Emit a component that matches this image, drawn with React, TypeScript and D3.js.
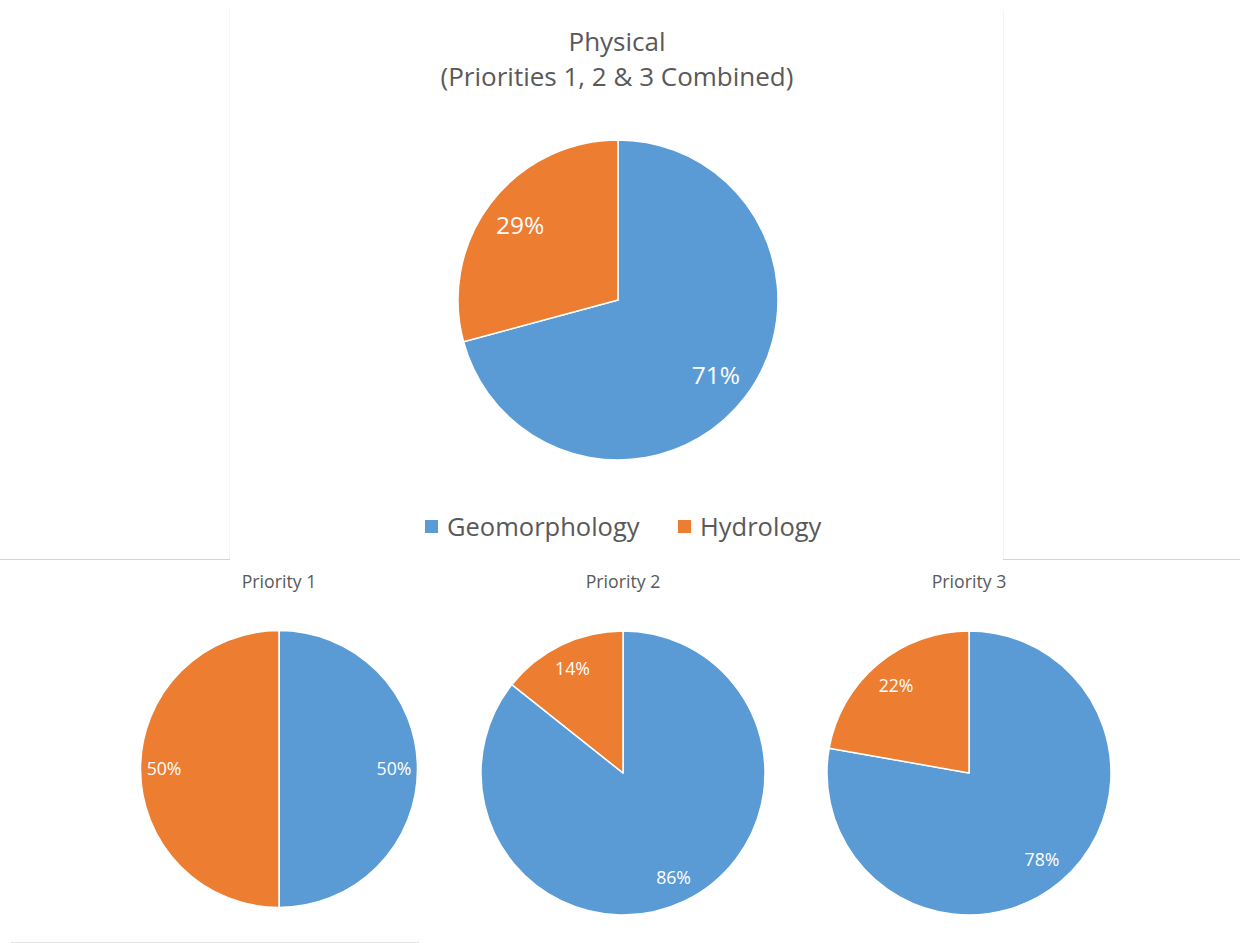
import React from "react";
import * as d3 from "d3";

const categories = ["Geomorphology", "Hydrology"];
const colors = ["#5B9BD5", "#ED7D31"];

const combinedValues = [70.8, 29.2];
const priority1Values = [50, 50];
const priority2Values = [85.7, 14.3];
const priority3Values = [77.8, 22.2];

const titleLines = ["Physical", "(Priorities 1, 2 & 3 Combined)"];
const panelTitles = ["Priority 1", "Priority 2", "Priority 3"];

const FONT = "'Open Sans', 'Noto Sans', sans-serif";
const TEXT = "#595959";

type PieProps = {
  values: number[];
  cx: number;
  cy: number;
  r: number;
  labelK: number;
  fontSize: number;
};

function Pie({ values, cx, cy, r, labelK, fontSize }: PieProps) {
  const pie = d3
    .pie<number>()
    .sort(null)
    .value((d) => d)
    .startAngle(0)
    .endAngle(2 * Math.PI);
  const arcs = pie(values);
  const arc = d3.arc<d3.PieArcDatum<number>>().innerRadius(0).outerRadius(r);
  const total = d3.sum(values);
  return (
    <g transform={`translate(${cx},${cy})`}>
      {arcs.map((a, i) => (
        <path
          key={i}
          d={arc(a) || ""}
          fill={colors[i]}
          stroke="#ffffff"
          strokeWidth={1.5}
          strokeLinejoin="round"
        />
      ))}
      {arcs.map((a, i) => {
        const mid = (a.startAngle + a.endAngle) / 2;
        const x = Math.sin(mid) * r * labelK;
        const y = -Math.cos(mid) * r * labelK;
        return (
          <text
            key={"l" + i}
            x={x}
            y={y}
            dy="0.36em"
            textAnchor="middle"
            fill="#ffffff"
            fontSize={fontSize}
            fontFamily={FONT}
          >
            {d3.format(".0%")(a.data / total)}
          </text>
        );
      })}
    </g>
  );
}

export default function App() {
  const W = 1240;
  const H = 943;
  const legendX = [425, 678];
  return (
    <svg
      width={W}
      height={H}
      style={{ position: "absolute", left: 0, top: 0, background: "#ffffff" }}
    >
      <rect x={0} y={0} width={W} height={H} fill="#ffffff" />
      {/* panel borders */}
      <line x1={229.5} y1={8} x2={229.5} y2={559} stroke="#f5f5f5" strokeWidth={1} />
      <line x1={1003.5} y1={10} x2={1003.5} y2={559} stroke="#f5f5f5" strokeWidth={1} />
      <line x1={0} y1={559.5} x2={230} y2={559.5} stroke="#d4d4d4" strokeWidth={1} />
      <line x1={1003} y1={559.5} x2={1240} y2={559.5} stroke="#d4d4d4" strokeWidth={1} />
      <line x1={11} y1={942.5} x2={419} y2={942.5} stroke="#e3e3e3" strokeWidth={1} />

      {/* title */}
      {titleLines.map((t, i) => (
        <text
          key={t}
          x={617}
          y={51 + i * 35}
          textAnchor="middle"
          fill={TEXT}
          fontSize={26}
          fontFamily={FONT}
        >
          {t}
        </text>
      ))}

      <Pie values={combinedValues} cx={618} cy={300} r={160} labelK={0.77} fontSize={24.5} />

      {/* legend */}
      {categories.map((c, i) => (
        <g key={c}>
          <rect x={legendX[i]} y={520} width={13} height={13} fill={colors[i]} />
          <text
            x={legendX[i] + 22}
            y={536}
            fill={TEXT}
            fontSize={25.5}
            fontFamily={FONT}
          >
            {c}
          </text>
        </g>
      ))}

      {/* bottom panels */}
      {[
        { vals: priority1Values, cx: 279, cy: 769, r: 138.5, k: 0.83 },
        { vals: priority2Values, cx: 623, cy: 773, r: 142, k: 0.82 },
        { vals: priority3Values, cx: 969, cy: 773, r: 142, k: 0.8 },
      ].map((p, i) => (
        <g key={i}>
          <text
            x={p.cx}
            y={588}
            textAnchor="middle"
            fill={TEXT}
            fontSize={17.7}
            fontFamily={FONT}
          >
            {panelTitles[i]}
          </text>
          <Pie values={p.vals} cx={p.cx} cy={p.cy} r={p.r} labelK={p.k} fontSize={17.7} />
        </g>
      ))}
    </svg>
  );
}
